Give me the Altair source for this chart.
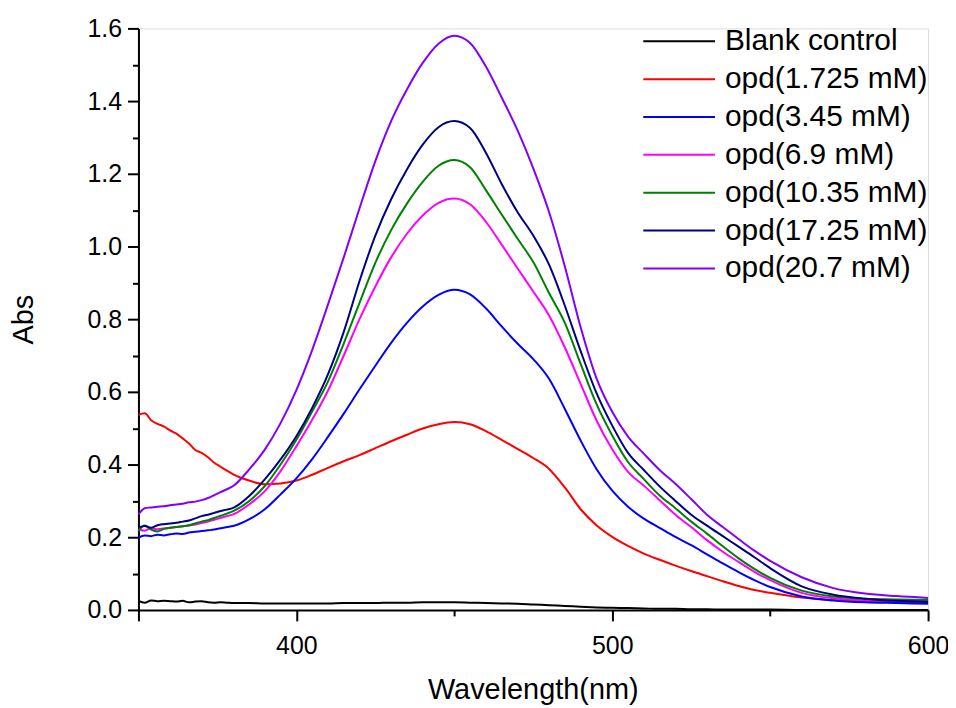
import altair as alt
import pandas as pd

wavelength = [350, 352, 354, 356, 358, 360, 362, 364, 366, 368, 370, 372, 374, 376, 378, 380,
              385, 390, 395, 400, 405, 410, 415, 420, 425, 430, 435, 440, 445, 450,
              455, 460, 465, 470, 475, 480, 485, 490, 495, 500, 505, 510, 515, 520, 525,
              530, 535, 540, 545, 550, 560, 570, 580, 590, 600]

blank = [0.025, 0.020, 0.026, 0.024, 0.025, 0.024, 0.023, 0.025, 0.021, 0.023, 0.024, 0.021, 0.020, 0.021, 0.020, 0.019,
         0.019, 0.018, 0.018, 0.018, 0.018, 0.018, 0.019, 0.019, 0.019, 0.020, 0.020, 0.021, 0.021, 0.021,
         0.020, 0.019, 0.018, 0.017, 0.015, 0.013, 0.011, 0.009, 0.007, 0.006, 0.005, 0.004, 0.003, 0.003, 0.002,
         0.002, 0.001, 0.001, 0.001, 0.001, 0.000, 0.000, 0.000, 0.000, 0.000]

opd_1725 = [0.537, 0.541, 0.522, 0.512, 0.505, 0.494, 0.485, 0.472, 0.458, 0.440, 0.432, 0.420, 0.405, 0.394, 0.383, 0.373,
            0.356, 0.346, 0.348, 0.356, 0.372, 0.391, 0.409, 0.426, 0.445, 0.464, 0.482, 0.499, 0.511, 0.517,
            0.511, 0.492, 0.468, 0.443, 0.418, 0.388, 0.337, 0.277, 0.233, 0.201, 0.176, 0.155, 0.138, 0.122, 0.107,
            0.093, 0.079, 0.066, 0.055, 0.047, 0.034, 0.027, 0.023, 0.021, 0.020]

opd_345 = [0.199, 0.205, 0.203, 0.207, 0.205, 0.208, 0.210, 0.209, 0.213, 0.215, 0.217, 0.219, 0.221, 0.225, 0.228, 0.231,
           0.249, 0.277, 0.318, 0.362, 0.415, 0.476, 0.540, 0.607, 0.672, 0.735, 0.790, 0.835, 0.867, 0.881,
           0.868, 0.830, 0.780, 0.733, 0.690, 0.636, 0.553, 0.466, 0.388, 0.328, 0.284, 0.251, 0.226, 0.201, 0.178,
           0.153, 0.128, 0.104, 0.082, 0.063, 0.037, 0.026, 0.021, 0.019, 0.017]

opd_69 = [0.222, 0.218, 0.225, 0.222, 0.224, 0.226, 0.228, 0.230, 0.232, 0.235, 0.239, 0.243, 0.248, 0.253, 0.258, 0.263,
          0.290, 0.327, 0.382, 0.450, 0.523, 0.603, 0.700, 0.800, 0.890, 0.970, 1.035, 1.085, 1.120, 1.132,
          1.116, 1.068, 1.005, 0.940, 0.876, 0.810, 0.722, 0.622, 0.522, 0.442, 0.380, 0.342, 0.302, 0.262, 0.228,
          0.192, 0.160, 0.132, 0.105, 0.082, 0.047, 0.032, 0.027, 0.025, 0.024]

opd_1035 = [0.217, 0.232, 0.221, 0.216, 0.223, 0.226, 0.228, 0.230, 0.233, 0.238, 0.243, 0.247, 0.253, 0.259, 0.265, 0.272,
            0.299, 0.341, 0.400, 0.468, 0.546, 0.628, 0.733, 0.845, 0.955, 1.045, 1.118, 1.178, 1.222, 1.238,
            1.218, 1.155, 1.088, 1.022, 0.957, 0.872, 0.790, 0.677, 0.567, 0.480, 0.407, 0.360, 0.315, 0.280, 0.243,
            0.210, 0.175, 0.142, 0.113, 0.088, 0.053, 0.037, 0.031, 0.029, 0.027]

opd_1725b = [0.227, 0.231, 0.226, 0.233, 0.236, 0.238, 0.240, 0.243, 0.246, 0.252, 0.258, 0.262, 0.267, 0.272, 0.276, 0.281,
             0.313, 0.359, 0.414, 0.478, 0.556, 0.648, 0.765, 0.905, 1.030, 1.130, 1.212, 1.280, 1.328, 1.345,
             1.326, 1.258, 1.172, 1.095, 1.030, 0.950, 0.837, 0.712, 0.597, 0.507, 0.432, 0.385, 0.340, 0.300, 0.262,
             0.232, 0.203, 0.174, 0.145, 0.115, 0.065, 0.042, 0.031, 0.025, 0.022]

opd_207 = [0.263, 0.280, 0.282, 0.284, 0.285, 0.288, 0.290, 0.292, 0.296, 0.298, 0.302, 0.308, 0.316, 0.324, 0.332, 0.341,
           0.386, 0.441, 0.514, 0.605, 0.715, 0.840, 0.970, 1.105, 1.235, 1.345, 1.432, 1.505, 1.558, 1.580,
           1.560, 1.495, 1.410, 1.320, 1.215, 1.095, 0.945, 0.778, 0.638, 0.545, 0.477, 0.430, 0.385, 0.347, 0.305,
           0.262, 0.228, 0.195, 0.163, 0.135, 0.090, 0.060, 0.045, 0.038, 0.033]

series_names = ["Blank control", "opd(1.725 mM)", "opd(3.45 mM)", "opd(6.9 mM)",
                "opd(10.35 mM)", "opd(17.25 mM)", "opd(20.7 mM)"]
series_values = [blank, opd_1725, opd_345, opd_69, opd_1035, opd_1725b, opd_207]
series_colors = ["#000000", "#ff0000", "#0000ff", "#ff00ff", "#008000", "#000080", "#8000ff"]

x_ticks = [350, 400, 450, 500, 550, 600]
y_ticks = [round(i * 0.1, 1) for i in range(17)]

rows = []
for name, vals in zip(series_names, series_values):
    for w, a in zip(wavelength, vals):
        rows.append({"wl": w, "abs": a, "series": name})
df = pd.DataFrame(rows)

FONT = "Liberation Sans"

x_axis = alt.Axis(
    values=x_ticks,
    labelExpr="datum.value % 100 == 0 ? datum.label : ''",
    tickSize={"condition": {"test": "datum.value == 450 || datum.value == 550", "value": 6}, "value": 11},
    title="Wavelength(nm)", titleFontSize=29, titleFont=FONT, titleFontWeight="normal",
    titleX=396, titleY=80, titleBaseline="middle", titleAlign="center", titleColor="black",
    labelFontSize=25, labelFont=FONT, labelColor="black", labelPadding=13,
    labelOverlap=False, labelFlush=False, grid=False,
    domainColor="black", domainWidth=2, tickColor="black", tickWidth=2,
)
y_axis = alt.Axis(
    values=y_ticks,
    labelExpr="round(datum.value * 10) % 2 == 0 ? format(datum.value, '.1f') : ''",
    tickSize={"condition": {"test": "round(datum.value * 10) % 2 == 1", "value": 6}, "value": 11},
    title="Abs", titleFontSize=29, titleFont=FONT, titleFontWeight="normal",
    titleX=-115, titleY=292, titleBaseline="middle", titleAlign="center", titleAngle=270,
    titleColor="black",
    labelFontSize=25, labelFont=FONT, labelColor="black", labelPadding=6,
    labelOverlap=False, labelFlush=False, grid=False,
    domainColor="black", domainWidth=2, tickColor="black", tickWidth=2,
)

legend = alt.Legend(
    title=None, orient="none", legendX=506, legendY=-1,
    symbolType="stroke", symbolSize=5184, symbolStrokeWidth=2,
    labelFontSize=30, labelFont=FONT, labelColor="black", labelOffset=9,
    clipHeight=28, rowPadding=8, padding=0, labelLimit=400,
)

chart = alt.Chart(df).mark_line(strokeWidth=2, interpolate="monotone").encode(
    x=alt.X("wl:Q", scale=alt.Scale(domain=[350, 600], nice=False, zero=False), axis=x_axis),
    y=alt.Y("abs:Q", scale=alt.Scale(domain=[0, 1.6], nice=False), axis=y_axis),
    color=alt.Color("series:N", scale=alt.Scale(domain=series_names, range=series_colors), legend=legend),
).properties(
    width=793, height=584,
    padding={"left": 131, "top": 19, "right": 20, "bottom": 97},
    autosize=alt.AutoSizeParams(type="none"),
).configure_view(strokeWidth=0).configure(font=FONT)

chart.save("out.html", embed_options={"renderer": "svg", "actions": False})
